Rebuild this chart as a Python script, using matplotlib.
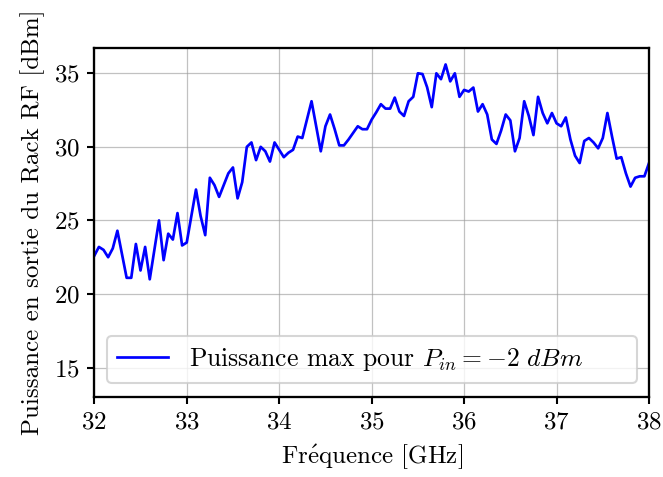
import numpy as np
import matplotlib
matplotlib.use("Agg")
import matplotlib.pyplot as plt

plt.rcParams.update({
    "font.family": "serif",
    "font.serif": ["cmr10"],
    "mathtext.fontset": "cm",
    "axes.formatter.use_mathtext": True,
    "axes.unicode_minus": False,
})

freq_start = 32.0
freq_step = 0.05
power = [
    22.6, 23.2, 23.0, 22.5, 23.1, 24.3, 22.7, 21.1, 21.1, 23.4,
    21.6, 23.2, 21.0, 23.0, 25.0, 22.3, 24.1, 23.7, 25.5, 23.3,
    23.5, 25.3, 27.1, 25.3, 24.0, 27.9, 27.4, 26.6, 27.4, 28.2,
    28.6, 26.5, 27.6, 30.0, 30.3, 29.1, 30.0, 29.7, 29.0, 30.3,
    29.8, 29.3, 29.6, 29.8, 30.7, 30.6, 31.85, 33.1, 31.4, 29.7,
    31.4, 32.2, 31.2, 30.1, 30.1, 30.5, 30.95, 31.4, 31.2, 31.2,
    31.85, 32.35, 32.9, 32.6, 32.6, 33.35, 32.4, 32.1, 33.1, 33.4,
    35.0, 34.95, 34.05, 32.7, 35.0, 34.6, 35.6, 34.45, 35.0, 33.4,
    33.87, 33.76, 34.03, 32.4, 32.9, 32.2, 30.5, 30.2, 31.1, 32.2,
    31.8, 29.7, 30.6, 33.1, 32.1, 30.8, 33.4, 32.3, 31.6, 32.3,
    31.6, 31.4, 32.0, 30.5, 29.4, 28.9, 30.4, 30.6, 30.3, 29.9,
    30.6, 32.3, 30.7, 29.2, 29.3, 28.2, 27.3, 27.9, 28.0, 28.0,
    28.9,
]
freq = freq_start + freq_step * np.arange(len(power))

xticks = [32, 33, 34, 35, 36, 37, 38]
yticks = [15, 20, 25, 30, 35]
legend_label = r"Puissance max pour $P_{in} = -2\ dBm$"
xlabel = r"Fr$\acute{\mathrm{e}}$quence [GHz]"
ylabel = "Puissance en sortie du Rack RF [dBm]"

fig = plt.figure(figsize=(4.42, 3.18), dpi=150)
ax = fig.add_axes([0.1422, 0.1677, 0.8367, 0.7317])
ax.plot(freq, power, color="blue", lw=1.3, label=legend_label)
ax.set_xlim(32, 38)
ax.set_ylim(13.0, 36.72)
ax.set_xticks(xticks)
ax.set_yticks(yticks)
ax.grid(True, color="#999999", alpha=0.6, lw=0.6)
ax.tick_params(labelsize=12, width=1.0, length=3.5)
for s in ax.spines.values():
    s.set_linewidth(1.1)
ax.set_xlabel(xlabel, fontsize=12)
ax.set_ylabel(ylabel, fontsize=12)
ax.legend(loc="lower left", fontsize=12.3, mode="expand", borderaxespad=0,
          bbox_to_anchor=(0.0229, 0.040, 0.9555, 0.2))
fig.savefig("out.png", dpi=150)
